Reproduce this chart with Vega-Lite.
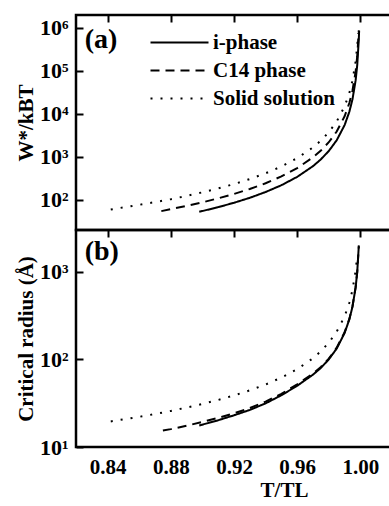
{
  "$schema": "https://vega.github.io/schema/vega-lite/v6.json",
  "background": "white",
  "padding": {"left": 14, "top": 13, "right": 0, "bottom": 0},
  "spacing": 0,
  "bounds": "flush",
  "config": {
    "view": {"stroke": "black", "strokeWidth": 2.5, "fill": null},
    "axis": {
      "zindex": 2, "domain": false, "ticks": false,
      "grid": true, "gridColor": "black", "gridOpacity": 1, "gridWidth": 2,
      "labelFlush": false, "labelOverlap": false,
      "labelFont": "Liberation Serif", "labelFontWeight": "bold", "labelFontSize": 21, "labelColor": "black",
      "titleFont": "Liberation Serif", "titleFontWeight": "bold", "titleFontSize": 21, "titleColor": "black"
    },
    "text": {"font": "Liberation Serif", "fontWeight": "bold", "fontSize": 28, "color": "black"}
  },
  "datasets": {
    "W": [
      {"phase": "i-phase", "T": 0.898, "v": 53},
      {"phase": "i-phase", "T": 0.91, "v": 68},
      {"phase": "i-phase", "T": 0.92, "v": 86},
      {"phase": "i-phase", "T": 0.93, "v": 112},
      {"phase": "i-phase", "T": 0.94, "v": 153},
      {"phase": "i-phase", "T": 0.95, "v": 220},
      {"phase": "i-phase", "T": 0.96, "v": 344},
      {"phase": "i-phase", "T": 0.97, "v": 611},
      {"phase": "i-phase", "T": 0.975, "v": 880},
      {"phase": "i-phase", "T": 0.98, "v": 1375},
      {"phase": "i-phase", "T": 0.985, "v": 2444},
      {"phase": "i-phase", "T": 0.99, "v": 5500},
      {"phase": "i-phase", "T": 0.993, "v": 11220},
      {"phase": "i-phase", "T": 0.995, "v": 22000},
      {"phase": "i-phase", "T": 0.997, "v": 61100},
      {"phase": "i-phase", "T": 0.998, "v": 137500},
      {"phase": "i-phase", "T": 0.999, "v": 550000},
      {"phase": "i-phase", "T": 0.9992, "v": 860000},
      {"phase": "C14 phase", "T": 0.874, "v": 55},
      {"phase": "C14 phase", "T": 0.88, "v": 61},
      {"phase": "C14 phase", "T": 0.89, "v": 73},
      {"phase": "C14 phase", "T": 0.90, "v": 88},
      {"phase": "C14 phase", "T": 0.91, "v": 109},
      {"phase": "C14 phase", "T": 0.92, "v": 138},
      {"phase": "C14 phase", "T": 0.93, "v": 180},
      {"phase": "C14 phase", "T": 0.94, "v": 244},
      {"phase": "C14 phase", "T": 0.95, "v": 352},
      {"phase": "C14 phase", "T": 0.96, "v": 550},
      {"phase": "C14 phase", "T": 0.97, "v": 978},
      {"phase": "C14 phase", "T": 0.975, "v": 1408},
      {"phase": "C14 phase", "T": 0.98, "v": 2200},
      {"phase": "C14 phase", "T": 0.985, "v": 3911},
      {"phase": "C14 phase", "T": 0.99, "v": 8800},
      {"phase": "C14 phase", "T": 0.993, "v": 17960},
      {"phase": "C14 phase", "T": 0.995, "v": 35200},
      {"phase": "C14 phase", "T": 0.997, "v": 97800},
      {"phase": "C14 phase", "T": 0.998, "v": 220000},
      {"phase": "C14 phase", "T": 0.999, "v": 880000},
      {"phase": "Solid solution", "T": 0.842, "v": 60},
      {"phase": "Solid solution", "T": 0.85, "v": 67},
      {"phase": "Solid solution", "T": 0.86, "v": 77},
      {"phase": "Solid solution", "T": 0.87, "v": 89},
      {"phase": "Solid solution", "T": 0.88, "v": 104},
      {"phase": "Solid solution", "T": 0.89, "v": 124},
      {"phase": "Solid solution", "T": 0.90, "v": 150},
      {"phase": "Solid solution", "T": 0.91, "v": 185},
      {"phase": "Solid solution", "T": 0.92, "v": 234},
      {"phase": "Solid solution", "T": 0.93, "v": 306},
      {"phase": "Solid solution", "T": 0.94, "v": 417},
      {"phase": "Solid solution", "T": 0.95, "v": 600},
      {"phase": "Solid solution", "T": 0.96, "v": 938},
      {"phase": "Solid solution", "T": 0.97, "v": 1667},
      {"phase": "Solid solution", "T": 0.975, "v": 2400},
      {"phase": "Solid solution", "T": 0.98, "v": 3750},
      {"phase": "Solid solution", "T": 0.985, "v": 6667},
      {"phase": "Solid solution", "T": 0.99, "v": 15000},
      {"phase": "Solid solution", "T": 0.993, "v": 30600},
      {"phase": "Solid solution", "T": 0.995, "v": 60000},
      {"phase": "Solid solution", "T": 0.997, "v": 166700},
      {"phase": "Solid solution", "T": 0.998, "v": 375000},
      {"phase": "Solid solution", "T": 0.9986, "v": 765000}
    ],
    "R": [
      {"phase": "i-phase", "T": 0.898, "v": 17.6},
      {"phase": "i-phase", "T": 0.91, "v": 20.2},
      {"phase": "i-phase", "T": 0.92, "v": 23},
      {"phase": "i-phase", "T": 0.93, "v": 26.5},
      {"phase": "i-phase", "T": 0.94, "v": 31.5},
      {"phase": "i-phase", "T": 0.95, "v": 39},
      {"phase": "i-phase", "T": 0.96, "v": 50},
      {"phase": "i-phase", "T": 0.97, "v": 67},
      {"phase": "i-phase", "T": 0.975, "v": 80},
      {"phase": "i-phase", "T": 0.98, "v": 100},
      {"phase": "i-phase", "T": 0.985, "v": 133},
      {"phase": "i-phase", "T": 0.99, "v": 200},
      {"phase": "i-phase", "T": 0.993, "v": 286},
      {"phase": "i-phase", "T": 0.995, "v": 400},
      {"phase": "i-phase", "T": 0.997, "v": 667},
      {"phase": "i-phase", "T": 0.998, "v": 1000},
      {"phase": "i-phase", "T": 0.999, "v": 2000},
      {"phase": "C14 phase", "T": 0.875, "v": 15.4},
      {"phase": "C14 phase", "T": 0.88, "v": 16},
      {"phase": "C14 phase", "T": 0.89, "v": 17.5},
      {"phase": "C14 phase", "T": 0.90, "v": 19.3},
      {"phase": "C14 phase", "T": 0.91, "v": 21.5},
      {"phase": "C14 phase", "T": 0.92, "v": 24.2},
      {"phase": "C14 phase", "T": 0.93, "v": 27.8},
      {"phase": "C14 phase", "T": 0.94, "v": 33},
      {"phase": "C14 phase", "T": 0.95, "v": 40.5},
      {"phase": "C14 phase", "T": 0.96, "v": 52},
      {"phase": "C14 phase", "T": 0.97, "v": 69},
      {"phase": "C14 phase", "T": 0.975, "v": 82},
      {"phase": "C14 phase", "T": 0.98, "v": 102},
      {"phase": "C14 phase", "T": 0.985, "v": 136},
      {"phase": "C14 phase", "T": 0.99, "v": 204},
      {"phase": "C14 phase", "T": 0.993, "v": 290},
      {"phase": "C14 phase", "T": 0.995, "v": 405},
      {"phase": "C14 phase", "T": 0.997, "v": 670},
      {"phase": "C14 phase", "T": 0.998, "v": 1000},
      {"phase": "C14 phase", "T": 0.999, "v": 1950},
      {"phase": "Solid solution", "T": 0.842, "v": 19.6},
      {"phase": "Solid solution", "T": 0.85, "v": 20.7},
      {"phase": "Solid solution", "T": 0.86, "v": 22.1},
      {"phase": "Solid solution", "T": 0.87, "v": 23.8},
      {"phase": "Solid solution", "T": 0.88, "v": 25.8},
      {"phase": "Solid solution", "T": 0.89, "v": 28.2},
      {"phase": "Solid solution", "T": 0.90, "v": 31},
      {"phase": "Solid solution", "T": 0.91, "v": 34.4},
      {"phase": "Solid solution", "T": 0.92, "v": 38.8},
      {"phase": "Solid solution", "T": 0.93, "v": 44.3},
      {"phase": "Solid solution", "T": 0.94, "v": 51.7},
      {"phase": "Solid solution", "T": 0.95, "v": 62},
      {"phase": "Solid solution", "T": 0.96, "v": 77.5},
      {"phase": "Solid solution", "T": 0.97, "v": 103},
      {"phase": "Solid solution", "T": 0.975, "v": 124},
      {"phase": "Solid solution", "T": 0.98, "v": 155},
      {"phase": "Solid solution", "T": 0.985, "v": 207},
      {"phase": "Solid solution", "T": 0.99, "v": 310},
      {"phase": "Solid solution", "T": 0.993, "v": 443},
      {"phase": "Solid solution", "T": 0.995, "v": 620},
      {"phase": "Solid solution", "T": 0.997, "v": 1033},
      {"phase": "Solid solution", "T": 0.9978, "v": 1410}
    ]
  },
  "vconcat": [
    {
      "width": 316, "height": 215,
      "data": {"name": "W"},
      "layer": [
        {
          "mark": {"type": "line", "color": "black", "strokeWidth": 2},
          "encoding": {
            "x": {"field": "T", "type": "quantitative", "scale": {"domain": [0.82, 1.02], "nice": false, "zero": false},
              "axis": {"orient": "bottom", "title": null, "labels": false, "values": [0.84, 0.88, 0.92, 0.96, 1.0], "gridDash": [7, 1000]}},
            "y": {"field": "v", "type": "quantitative", "scale": {"type": "log", "domain": [20, 2000000], "nice": false},
              "axis": {"orient": "left", "title": "W*/kBT", "titlePadding": 3,
                "values": [100, 1000, 10000, 100000, 1000000],
                "labelExpr": "'10' + ['⁰','¹','²','³','⁴','⁵','⁶'][round(log(datum.value)/LN10)]",
                "labelFontSize": 22, "labelPadding": 8, "gridDash": [7, 1000]}},
            "strokeDash": {"field": "phase", "type": "nominal",
              "scale": {"domain": ["i-phase", "C14 phase", "Solid solution"], "range": [[1, 0], [9, 6], [2, 8]]},
              "legend": {"orient": "none", "legendX": 69, "legendY": 17, "title": null, "padding": 0,
                "symbolType": "M-1,0H10.6", "symbolSize": 100, "symbolStrokeColor": "black", "symbolStrokeWidth": 2, "symbolFillColor": "transparent",
                "labelFont": "Liberation Serif", "labelFontWeight": "bold", "labelFontSize": 21, "labelColor": "black",
                "labelOffset": 47, "rowPadding": 6, "labelLimit": 300}}
          }
        },
        {
          "mark": {"type": "line", "opacity": 0},
          "encoding": {
            "x": {"field": "T", "type": "quantitative",
              "axis": {"orient": "top", "title": null, "labels": false, "values": [0.84, 0.88, 0.92, 0.96, 1.0], "gridDash": [7, 1000]}},
            "y": {"field": "v", "type": "quantitative",
              "axis": {"orient": "right", "title": null, "labels": false, "values": [100, 1000, 10000, 100000, 1000000], "gridDash": [6, 1000]}},
            "detail": {"field": "phase", "type": "nominal"}
          }
        },
        {
          "mark": {"type": "line", "opacity": 0},
          "encoding": {
            "x": {"field": "T", "type": "quantitative",
              "axis": {"orient": "bottom", "title": null, "labels": false, "values": [0.86, 0.9, 0.94, 0.98], "gridDash": [4, 1000]}},
            "y": {"field": "v", "type": "quantitative",
              "axis": {"orient": "left", "title": null, "labels": false,
                "values": [20,30,40,50,60,70,80,90,200,300,400,500,600,700,800,900,2000,3000,4000,5000,6000,7000,8000,9000,20000,30000,40000,50000,60000,70000,80000,90000,200000,300000,400000,500000,600000,700000,800000,900000],
                "gridDash": [4, 1000], "gridWidth": 1.5}},
            "detail": {"field": "phase", "type": "nominal"}
          }
        },
        {
          "mark": {"type": "line", "opacity": 0},
          "encoding": {
            "x": {"field": "T", "type": "quantitative",
              "axis": {"orient": "top", "title": null, "labels": false, "values": [0.86, 0.9, 0.94, 0.98], "gridDash": [4, 1000]}},
            "y": {"field": "v", "type": "quantitative",
              "axis": {"orient": "right", "title": null, "labels": false,
                "values": [20,30,40,50,60,70,80,90,200,300,400,500,600,700,800,900,2000,3000,4000,5000,6000,7000,8000,9000,20000,30000,40000,50000,60000,70000,80000,90000,200000,300000,400000,500000,600000,700000,800000,900000],
                "gridDash": [3, 1000], "gridWidth": 1.5}},
            "detail": {"field": "phase", "type": "nominal"}
          }
        },
        {
          "data": {"values": [{}]},
          "mark": {"type": "text", "align": "left", "baseline": "alphabetic"},
          "encoding": {
            "x": {"datum": 0.8255, "type": "quantitative", "axis": null},
            "y": {"datum": 340000, "type": "quantitative", "axis": null},
            "text": {"value": "(a)"}
          }
        }
      ],
      "resolve": {"axis": {"x": "independent", "y": "independent"}}
    },
    {
      "width": 316, "height": 217,
      "data": {"name": "R"},
      "layer": [
        {
          "mark": {"type": "line", "color": "black", "strokeWidth": 2},
          "encoding": {
            "x": {"field": "T", "type": "quantitative", "scale": {"domain": [0.82, 1.02], "nice": false, "zero": false},
              "axis": {"orient": "bottom", "title": "T/TL", "titleX": 208, "titleY": 49, "titleBaseline": "alphabetic", "titleAlign": "center",
                "values": [0.84, 0.88, 0.92, 0.96, 1.0], "format": ".2f", "labelPadding": 9, "gridDash": [7, 1000]}},
            "y": {"field": "v", "type": "quantitative", "scale": {"type": "log", "domain": [10, 3000], "nice": false},
              "axis": {"orient": "left", "title": "Critical radius (Å)", "titlePadding": 3,
                "values": [10, 100, 1000],
                "labelExpr": "'10' + ['⁰','¹','²','³','⁴','⁵','⁶'][round(log(datum.value)/LN10)]",
                "labelFontSize": 22, "labelPadding": 8, "gridDash": [7, 1000]}},
            "strokeDash": {"field": "phase", "type": "nominal",
              "scale": {"domain": ["i-phase", "C14 phase", "Solid solution"], "range": [[1, 0], [9, 6], [2, 8]]},
              "legend": null}
          }
        },
        {
          "mark": {"type": "line", "opacity": 0},
          "encoding": {
            "x": {"field": "T", "type": "quantitative",
              "axis": {"orient": "top", "title": null, "labels": false, "values": [0.84, 0.88, 0.92, 0.96, 1.0], "gridDash": [7, 1000]}},
            "y": {"field": "v", "type": "quantitative",
              "axis": {"orient": "right", "title": null, "labels": false, "values": [10, 100, 1000], "gridDash": [6, 1000]}},
            "detail": {"field": "phase", "type": "nominal"}
          }
        },
        {
          "mark": {"type": "line", "opacity": 0},
          "encoding": {
            "x": {"field": "T", "type": "quantitative",
              "axis": {"orient": "bottom", "title": null, "labels": false, "values": [0.86, 0.9, 0.94, 0.98], "gridDash": [4, 1000]}},
            "y": {"field": "v", "type": "quantitative",
              "axis": {"orient": "left", "title": null, "labels": false,
                "values": [20,30,40,50,60,70,80,90,200,300,400,500,600,700,800,900,2000,3000], "gridDash": [4, 1000], "gridWidth": 1.5}},
            "detail": {"field": "phase", "type": "nominal"}
          }
        },
        {
          "mark": {"type": "line", "opacity": 0},
          "encoding": {
            "x": {"field": "T", "type": "quantitative",
              "axis": {"orient": "top", "title": null, "labels": false, "values": [0.86, 0.9, 0.94, 0.98], "gridDash": [4, 1000]}},
            "y": {"field": "v", "type": "quantitative",
              "axis": {"orient": "right", "title": null, "labels": false,
                "values": [20,30,40,50,60,70,80,90,200,300,400,500,600,700,800,900,2000,3000], "gridDash": [3, 1000], "gridWidth": 1.5}},
            "detail": {"field": "phase", "type": "nominal"}
          }
        },
        {
          "data": {"values": [{}]},
          "mark": {"type": "text", "align": "left", "baseline": "alphabetic"},
          "encoding": {
            "x": {"datum": 0.8255, "type": "quantitative", "axis": null},
            "y": {"datum": 1360, "type": "quantitative", "axis": null},
            "text": {"value": "(b)"}
          }
        }
      ],
      "resolve": {"axis": {"x": "independent", "y": "independent"}}
    }
  ],
  "resolve": {"legend": {"strokeDash": "independent"}}
}
